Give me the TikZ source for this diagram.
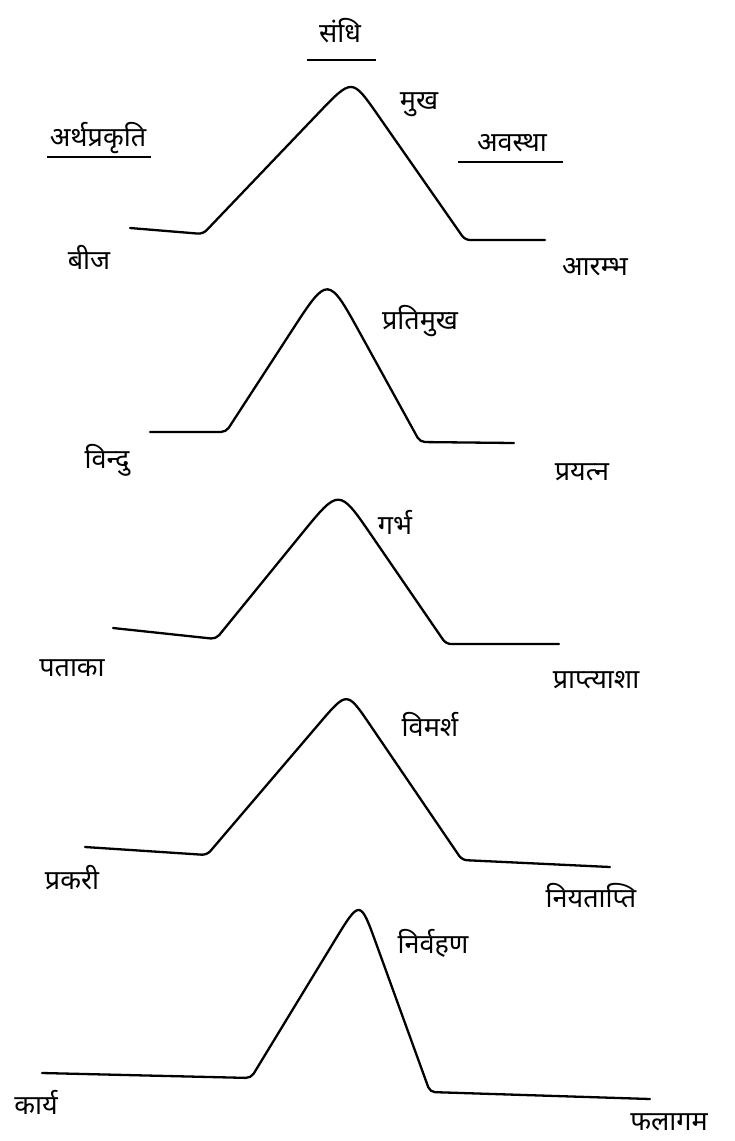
\documentclass[tikz,border=0pt]{standalone}
\usepackage{fontspec}
\newfontfamily\deva[Script=Devanagari]{Noto Sans}
\usetikzlibrary{calc}

\begin{document}
\begin{tikzpicture}[x=1pt,y=-1pt,
        hump/.style={line width=2.3pt,line cap=round,line join=round,rounded corners=5pt},
        uline/.style={line width=1.4pt},
        lbl/.style={font={\deva\fontsize{27}{30}\selectfont},inner sep=0pt}]
        \useasboundingbox (0,0) rectangle (734,1141);
        % headings
        \node[lbl] (sandhi) at (340,31) {संधि};
        \node[lbl] (prakriti) at (98,138) {अर्थप्रकृति};
        \node[lbl] (avastha) at (512,143) {अवस्था};
        \draw[uline] (307,60)--(376,60);
        \draw[uline] (47,157)--(151,157);
        \draw[uline] (458,162)--(563,162);
        % humps: start, left foot, apex corner, right foot, end
        \coordinate (s1) at (130,228); \coordinate (l1) at (203,234); \coordinate (v1) at (352,78);  \coordinate (r1) at (465,240); \coordinate (e1) at (545,240);
        \coordinate (s2) at (150,432); \coordinate (l2) at (226,432); \coordinate (v2) at (328,275); \coordinate (r2) at (420,442); \coordinate (e2) at (514,443);
        \coordinate (s3) at (113,628); \coordinate (l3) at (216,639); \coordinate (v3) at (339,488); \coordinate (r3) at (446,644); \coordinate (e3) at (559,644);
        \coordinate (s4) at (85,847);  \coordinate (l4) at (207,855); \coordinate (v4) at (347,691); \coordinate (r4) at (462,860); \coordinate (e4) at (610,867);
        \coordinate (s5) at (42,1073); \coordinate (l5) at (251,1078); \coordinate (v5) at (360,899); \coordinate (r5) at (430,1092); \coordinate (e5) at (650,1099);
        \foreach \h/\c in {1/0.25,2/0.38,3/0.33,4/0.22,5/0.26}{
            \draw[hump] (s\h) -- (l\h) -- ($(v\h)!\c!(l\h)$) .. controls (v\h) .. ($(v\h)!\c!(r\h)$) -- (r\h) -- (e\h);
        }
        % sandhi names
        \node[lbl] (mukha) at (419,105) {मुख};
        \node[lbl] (pratimukha) at (420,321) {प्रतिमुख};
        \node[lbl] (garbha) at (395,522) {गर्भ};
        \node[lbl] (vimarsha) at (430,724) {विमर्श};
        \node[lbl] (nirvahana) at (433,943) {निर्वहण};
        % arthaprakriti
        \node[lbl] (bija) at (89,257) {बीज};
        \node[lbl] (bindu) at (107,460) {विन्दु};
        \node[lbl] (pataka) at (72,668) {पताका};
        \node[lbl] (prakari) at (72,878) {प्रकरी};
        \node[lbl] (karya) at (36,1102) {कार्य};
        % avastha
        \node[lbl] (arambha) at (595,267) {आरम्भ};
        \node[lbl] (prayatna) at (582,472) {प्रयत्न};
        \node[lbl] (praptyasha) at (596,680) {प्राप्त्याशा};
        \node[lbl] (niyatapti) at (591,896) {नियताप्ति};
        \node[lbl] (phalagama) at (669,1122) {फलागम};
    \end{tikzpicture}
\end{document}
